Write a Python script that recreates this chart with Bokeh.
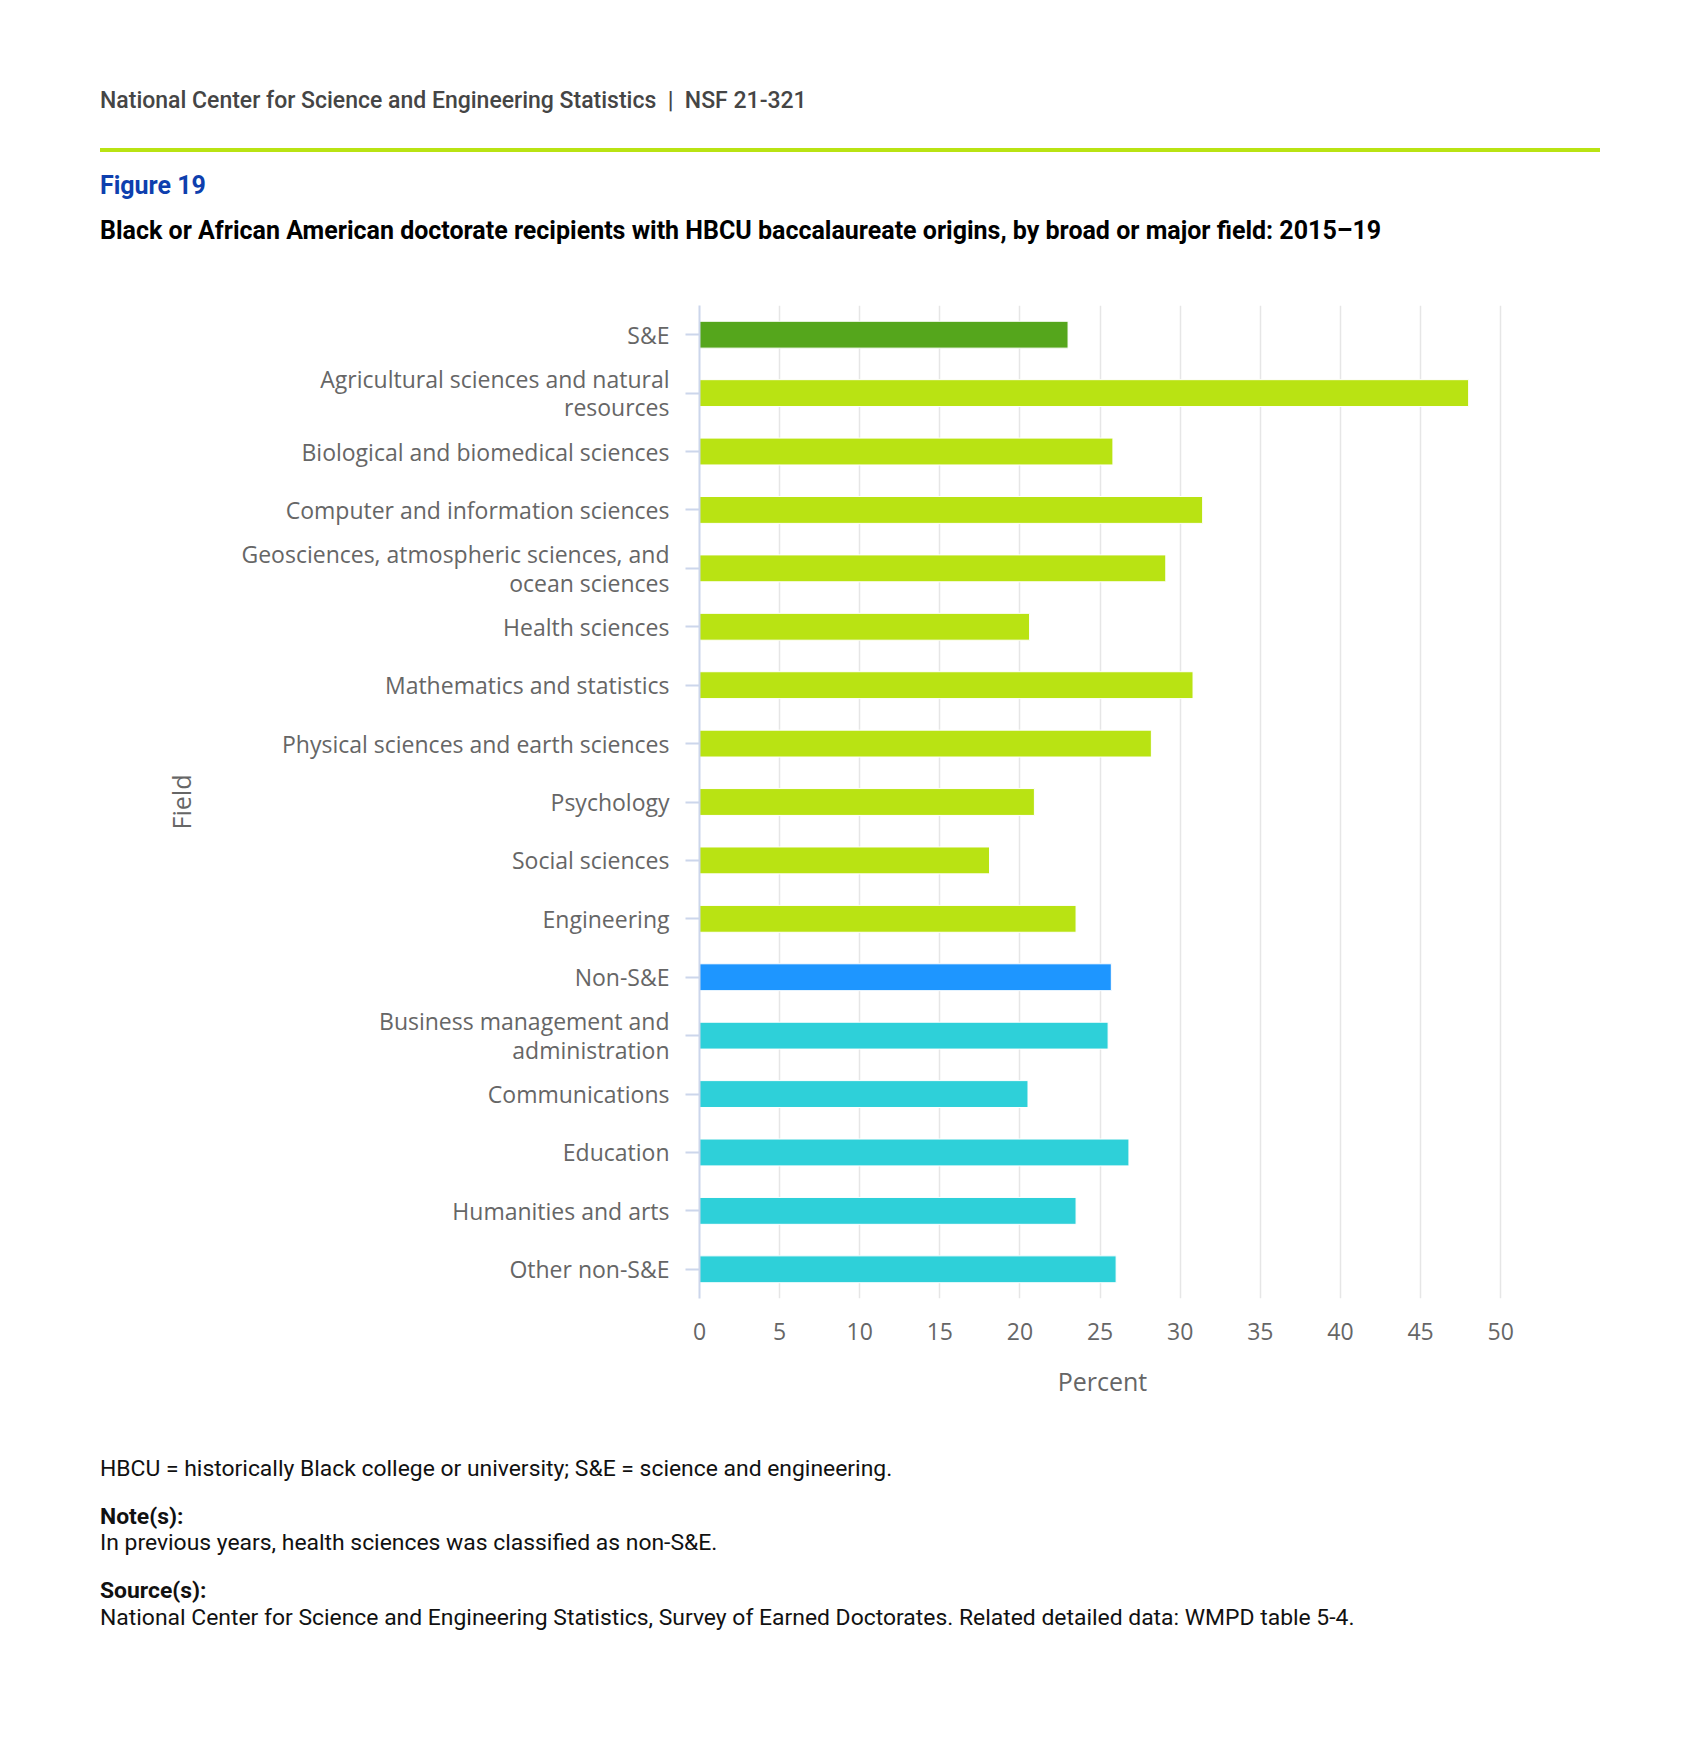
from bokeh.plotting import figure
from bokeh.models import ColumnDataSource, Range1d, FactorRange, Div
from bokeh.layouts import column
from bokeh.embed import file_html
from bokeh.resources import INLINE

# ---------------- data ----------------
fields = [
    "S&E",
    "Agricultural sciences and natural resources",
    "Biological and biomedical sciences",
    "Computer and information sciences",
    "Geosciences, atmospheric sciences, and ocean sciences",
    "Health sciences",
    "Mathematics and statistics",
    "Physical sciences and earth sciences",
    "Psychology",
    "Social sciences",
    "Engineering",
    "Non-S&E",
    "Business management and administration",
    "Communications",
    "Education",
    "Humanities and arts",
    "Other non-S&E",
]
percents = [23.0, 48.0, 25.8, 31.4, 29.1, 20.6, 30.8, 28.2, 20.9, 18.1, 23.5,
            25.7, 25.5, 20.5, 26.8, 23.5, 26.0]
groups = ["S&E total", "S&E", "S&E", "S&E", "S&E", "S&E", "S&E", "S&E", "S&E",
          "S&E", "S&E", "Non-S&E total", "Non-S&E", "Non-S&E", "Non-S&E",
          "Non-S&E", "Non-S&E"]
group_colors = {"S&E total": "#55A61C", "S&E": "#B9E313",
                "Non-S&E total": "#1E96FF", "Non-S&E": "#2ED0D9"}
wrapped_labels = {
    "Agricultural sciences and natural resources":
        "Agricultural sciences and natural\nresources",
    "Geosciences, atmospheric sciences, and ocean sciences":
        "Geosciences, atmospheric sciences, and\nocean sciences",
    "Business management and administration":
        "Business management and\nadministration",
}
x_ticks = [0, 5, 10, 15, 20, 25, 30, 35, 40, 45, 50]

header_text = "National Center for Science and Engineering Statistics&nbsp;&nbsp;|&nbsp;&nbsp;NSF 21-321"
figure_text = "Figure 19"
title_text = ("Black or African American doctorate recipients with HBCU "
              "baccalaureate origins, by broad or major field: 2015\u201319")
footer_lines = [
    ("HBCU = historically Black college or university; S&amp;E = science and engineering.", "normal", 1469),
    ("Note(s):", "bold", 1517),
    ("In previous years, health sciences was classified as non-S&amp;E.", "normal", 1543),
    ("Source(s):", "bold", 1591),
    ("National Center for Science and Engineering Statistics, Survey of Earned "
     "Doctorates. Related detailed data: WMPD table 5-4.", "normal", 1618),
]

# ---------------- geometry (page pixels) ----------------
W = 1700
HEAD_H = 260
FT, FB = 305, 1298          # frame top / bottom on the page
FL, FR = 699, 1505          # frame left / right
BOTTOM = 122
FOOT_TOP = FB + BOTTOM
FOOT_H = 260


def line(txt, top, size, weight, color):
    return (f'<div style="position:absolute;left:100px;top:{top}px;'
            f'line-height:30px;font-size:{size}px;font-weight:{weight};'
            f'color:{color};white-space:nowrap;font-family:Roboto,sans-serif;">'
            f'{txt}</div>')


head_html = (
    f'<div style="position:relative;width:{W}px;height:{HEAD_H}px;">'
    + line(header_text, 101 - 15, 23, 500, "#454545")
    + '<div style="position:absolute;left:100px;top:148px;width:1500px;'
      'height:4px;background:#B9E313;"></div>'
    + line(figure_text, 186 - 15, 25, 700, "#0E3FAE")
    + line(title_text, 231 - 15, 25, 700, "#000000")
    + '</div>'
)
foot_html = (
    f'<div style="position:relative;width:{W}px;height:{FOOT_H}px;">'
    + "".join(line(t, y - FOOT_TOP - 15, 22.9, 700 if s == "bold" else 400, "#111111")
              for t, s, y in footer_lines)
    + '</div>'
)

header = Div(text=head_html, width=W, height=HEAD_H, margin=0)
footer = Div(text=foot_html, width=W, height=FOOT_H, margin=0)

# ---------------- chart ----------------
display_fields = [wrapped_labels.get(f, f) for f in fields]
src = ColumnDataSource(dict(
    field=display_fields,
    pct=percents,
    color=[group_colors[g] for g in groups],
))

p = figure(width=W, height=FOOT_TOP - HEAD_H,
           y_range=FactorRange(*reversed(display_fields)),
           x_range=Range1d(0, 50.3), output_backend="svg",
           toolbar_location=None, min_border_left=FL, min_border_right=W - FR,
           min_border_top=FT - HEAD_H, min_border_bottom=BOTTOM, margin=0)
p.y_range.range_padding = 0
p.hbar(y="field", left=0, right="pct", height=0.46, color="color",
       line_color="white", line_width=1, source=src)

p.outline_line_color = None
p.background_fill_color = "white"
p.border_fill_color = "white"
p.ygrid.visible = False
p.xgrid.grid_line_color = "#e6e6e6"
p.xgrid.grid_line_width = 1.5
p.xgrid.ticker = x_ticks

p.xaxis.ticker = x_ticks
p.xaxis.axis_line_color = None
p.xaxis.major_tick_line_color = None
p.xaxis.minor_tick_line_color = None
p.xaxis.major_label_standoff = 18
p.xaxis.major_label_text_font = "Open Sans"
p.xaxis.major_label_text_font_size = "23px"
p.xaxis.major_label_text_color = "#666666"
p.xaxis.axis_label = "Percent"
p.xaxis.axis_label_text_font = "Open Sans"
p.xaxis.axis_label_text_font_size = "25px"
p.xaxis.axis_label_text_font_style = "normal"
p.xaxis.axis_label_text_color = "#666666"
p.xaxis.axis_label_standoff = 21

p.yaxis.axis_line_color = "#ccd6eb"
p.yaxis.axis_line_width = 2
p.yaxis.major_tick_line_color = "#ccd6eb"
p.yaxis.major_tick_line_width = 2
p.yaxis.major_tick_out = 14
p.yaxis.major_tick_in = 0
p.yaxis.major_label_standoff = 16
p.yaxis.major_label_text_font = "Open Sans"
p.yaxis.major_label_text_font_size = "23px"
p.yaxis.major_label_text_color = "#666666"
p.yaxis.major_label_text_line_height = 0.89
p.yaxis.axis_label = "Field"
p.yaxis.axis_label_text_font = "Open Sans"
p.yaxis.axis_label_text_font_size = "25px"
p.yaxis.axis_label_text_font_style = "normal"
p.yaxis.axis_label_text_color = "#666666"
p.yaxis.axis_label_standoff = 40

layout = column(header, p, footer, spacing=0)
open("out.html", "w").write(file_html(layout, INLINE))
